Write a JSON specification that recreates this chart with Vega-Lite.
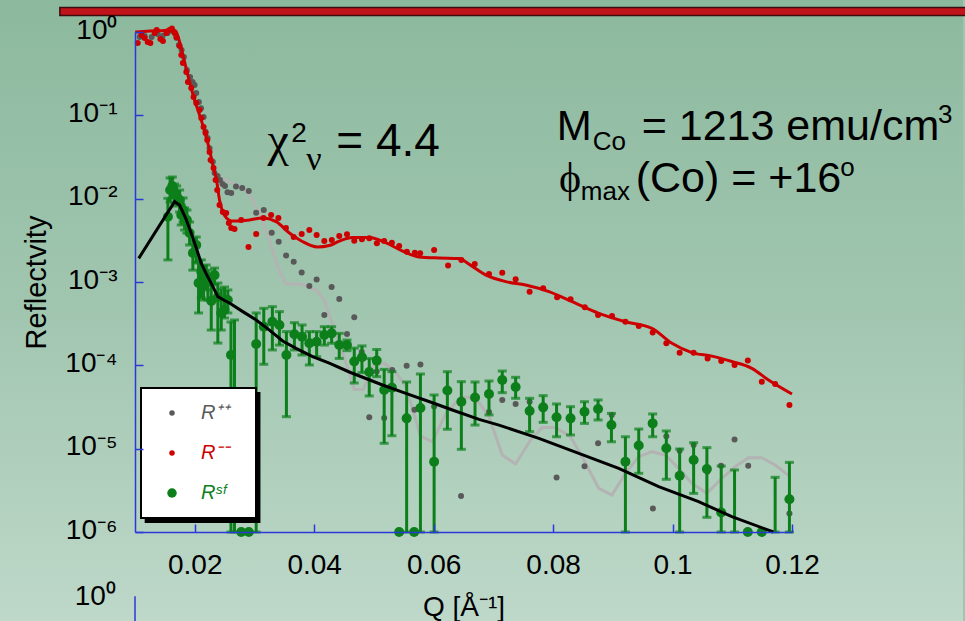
{
  "$schema": "https://vega.github.io/schema/vega-lite/v6.json",
  "width": 657,
  "height": 500,
  "autosize": {"type": "none"},
  "padding": {"left": 135, "top": 32, "right": 173, "bottom": 89},
  "background": "#a1c6b0",
  "config": {"view": {"stroke": null}, "font": "Liberation Sans", "legend": {"strokeWidth": 2}},
  "datasets": {
    "pr": [
      {"s":"R++","q":0.01079,"R":0.871},{"s":"R++","q":0.01162,"R":0.895},{"s":"R++","q":0.01279,"R":0.871},{"s":"R++","q":0.01379,"R":0.946},{"s":"R++","q":0.01463,"R":0.895},{"s":"R++","q":0.01546,"R":0.973},{"s":"R++","q":0.0163,"R":1.028},{"s":"R++","q":0.01697,"R":0.847},
      {"s":"R++","q":0.01735,"R":0.698},{"s":"R++","q":0.0178,"R":0.608},{"s":"R++","q":0.01819,"R":0.501},{"s":"R++","q":0.01869,"R":0.35},{"s":"R++","q":0.01922,"R":0.288},{"s":"R++","q":0.01964,"R":0.251},{"s":"R++","q":0.01998,"R":0.231},{"s":"R++","q":0.02026,"R":0.185},{"s":"R++","q":0.02069,"R":0.145},{"s":"R++","q":0.02106,"R":0.122},{"s":"R++","q":0.02148,"R":0.0955},{"s":"R++","q":0.02181,"R":0.0637},{"s":"R++","q":0.02215,"R":0.0535},{"s":"R++","q":0.02248,"R":0.0402},{"s":"R++","q":0.02303,"R":0.0278},{"s":"R++","q":0.02332,"R":0.0203},{"s":"R++","q":0.02382,"R":0.0187},{"s":"R++","q":0.02424,"R":0.01675},{"s":"R++","q":0.02465,"R":0.015},{"s":"R++","q":0.02507,"R":0.0142},{"s":"R++","q":0.02549,"R":0.0119},{"s":"R++","q":0.02611,"R":0.0117},{"s":"R++","q":0.02691,"R":0.014},{"s":"R++","q":0.02795,"R":0.0134},{"s":"R++","q":0.02905,"R":0.0124},{"s":"R++","q":0.03029,"R":0.00679},{"s":"R++","q":0.03156,"R":0.00731},{"s":"R++","q":0.03289,"R":0.00391},{"s":"R++","q":0.03406,"R":0.00305},{"s":"R++","q":0.0353,"R":0.00208},{"s":"R++","q":0.03657,"R":0.00175},{"s":"R++","q":0.03791,"R":0.0013},{"s":"R++","q":0.03919,"R":0.000895},{"s":"R++","q":0.04041,"R":0.00107},{"s":"R++","q":0.0417,"R":0.000402},{"s":"R++","q":0.04292,"R":0.000871},{"s":"R++","q":0.0442,"R":0.000625},{"s":"R++","q":0.04549,"R":0.000238},{"s":"R++","q":0.04671,"R":0.000377},{"s":"R++","q":0.04796,"R":0.000145},{"s":"R++","q":0.04922,"R":2.38e-5},{"s":"R++","q":0.05047,"R":8.43e-5},{"s":"R++","q":0.05172,"R":2.33e-5},{"s":"R++","q":0.05306,"R":8.79e-5},{"s":"R++","q":0.05548,"R":9.9e-5},{"s":"R++","q":0.05679,"R":2.94e-5},{"s":"R++","q":0.05779,"R":0.000102},{"s":"R++","q":0.06008,"R":3.21e-5},{"s":"R++","q":0.06459,"R":2.7e-6},{"s":"R++","q":0.06927,"R":2.75e-5},{"s":"R++","q":0.07149,"R":3.84e-5},{"s":"R++","q":0.07373,"R":3.44e-5},{"s":"R++","q":0.07607,"R":3.66e-5},{"s":"R++","q":0.08058,"R":4.51e-6},{"s":"R++","q":0.08526,"R":6.14e-6},{"s":"R++","q":0.08753,"R":1.16e-5},{"s":"R++","q":0.08982,"R":2.54e-5},{"s":"R++","q":0.09671,"R":1.91e-6},{"s":"R++","q":0.09896,"R":1.41e-5},{"s":"R++","q":0.10119,"R":9.46e-6},{"s":"R++","q":0.10353,"R":1.11e-5},{"s":"R++","q":0.10582,"R":5.3e-6},{"s":"R++","q":0.10812,"R":6.22e-6},{"s":"R++","q":0.11038,"R":1.29e-5},{"s":"R++","q":0.11267,"R":6.22e-6},{"s":"R++","q":0.11957,"R":1.67e-6},
      {"s":"R--","q":0.01045,"R":0.738},{"s":"R--","q":0.01107,"R":0.92},{"s":"R--","q":0.01162,"R":0.847},{"s":"R--","q":0.01212,"R":0.759},{"s":"R--","q":0.01257,"R":0.738},{"s":"R--","q":0.01329,"R":0.973},{"s":"R--","q":0.01363,"R":1.057},{"s":"R--","q":0.01424,"R":0.824},{"s":"R--","q":0.01468,"R":0.78},{"s":"R--","q":0.01525,"R":0.973},{"s":"R--","q":0.0158,"R":1.057},{"s":"R--","q":0.01618,"R":1.1},{"s":"R--","q":0.01663,"R":0.973},{"s":"R--","q":0.01692,"R":0.871},
      {"s":"R--","q":0.01747,"R":0.679},{"s":"R--","q":0.01775,"R":0.53},{"s":"R--","q":0.01802,"R":0.425},{"s":"R--","q":0.01859,"R":0.331},{"s":"R--","q":0.01886,"R":0.251},{"s":"R--","q":0.01942,"R":0.213},{"s":"R--","q":0.01981,"R":0.166},{"s":"R--","q":0.02026,"R":0.141},{"s":"R--","q":0.02081,"R":0.116},{"s":"R--","q":0.0211,"R":0.0929},{"s":"R--","q":0.02148,"R":0.0724},{"s":"R--","q":0.02181,"R":0.0614},{"s":"R--","q":0.0221,"R":0.0506},{"s":"R--","q":0.02248,"R":0.0363},{"s":"R--","q":0.02265,"R":0.0291},{"s":"R--","q":0.02315,"R":0.0233},{"s":"R--","q":0.02349,"R":0.01675},{"s":"R--","q":0.02377,"R":0.0127},{"s":"R--","q":0.02415,"R":0.00839},{"s":"R--","q":0.0247,"R":0.00692},{"s":"R--","q":0.02527,"R":0.00673},{"s":"R--","q":0.02571,"R":0.0051},{"s":"R--","q":0.02611,"R":0.00445},{"s":"R--","q":0.02666,"R":0.00433},{"s":"R--","q":0.02778,"R":0.00555},{"s":"R--","q":0.029,"R":0.00263},{"s":"R--","q":0.03029,"R":0.00377},{"s":"R--","q":0.03151,"R":0.00586},{"s":"R--","q":0.03279,"R":0.00637},{"s":"R--","q":0.03401,"R":0.00586},{"s":"R--","q":0.03527,"R":0.00445},{"s":"R--","q":0.03657,"R":0.00347},{"s":"R--","q":0.03791,"R":0.00377},{"s":"R--","q":0.03919,"R":0.00421},{"s":"R--","q":0.04041,"R":0.00366},{"s":"R--","q":0.0417,"R":0.0031},{"s":"R--","q":0.04295,"R":0.00319},{"s":"R--","q":0.0442,"R":0.00356},{"s":"R--","q":0.04549,"R":0.00373},{"s":"R--","q":0.04671,"R":0.00313},{"s":"R--","q":0.048,"R":0.00325},{"s":"R--","q":0.04922,"R":0.00334},{"s":"R--","q":0.0505,"R":0.00291},{"s":"R--","q":0.05172,"R":0.0031},{"s":"R--","q":0.05301,"R":0.00296},{"s":"R--","q":0.05423,"R":0.0027},{"s":"R--","q":0.05552,"R":0.00231},{"s":"R--","q":0.05685,"R":0.00225},{"s":"R--","q":0.05774,"R":0.00221},{"s":"R--","q":0.06008,"R":0.00242},{"s":"R--","q":0.06242,"R":0.00158},{"s":"R--","q":0.06464,"R":0.00184},{"s":"R--","q":0.06688,"R":0.00164},{"s":"R--","q":0.06927,"R":0.00125},{"s":"R--","q":0.07149,"R":0.00129},{"s":"R--","q":0.07373,"R":0.00108},{"s":"R--","q":0.07607,"R":0.000766},{"s":"R--","q":0.07834,"R":0.000839},{"s":"R--","q":0.08068,"R":0.000655},{"s":"R--","q":0.08292,"R":0.000619},{"s":"R--","q":0.08531,"R":0.000497},{"s":"R--","q":0.08753,"R":0.000402},{"s":"R--","q":0.08987,"R":0.000391},{"s":"R--","q":0.09211,"R":0.000334},{"s":"R--","q":0.09434,"R":0.000296},{"s":"R--","q":0.09667,"R":0.000247},{"s":"R--","q":0.09896,"R":0.000184},{"s":"R--","q":0.10119,"R":0.000142},{"s":"R--","q":0.10353,"R":0.000142},{"s":"R--","q":0.10587,"R":0.000121},{"s":"R--","q":0.10815,"R":0.000113},{"s":"R--","q":0.11038,"R":0.000101},{"s":"R--","q":0.1126,"R":0.000114},{"s":"R--","q":0.11494,"R":6.37e-5},{"s":"R--","q":0.11718,"R":5.97e-5},{"s":"R--","q":0.11957,"R":3.34e-5}
    ],
    "sf": [
      {"s":"RSF","q":0.01551,"R":0.00608},{"s":"RSF","q":0.01588,"R":0.0127},{"s":"RSF","q":0.01625,"R":0.0142},{"s":"RSF","q":0.01663,"R":0.0117},{"s":"RSF","q":0.01697,"R":0.0108},{"s":"RSF","q":0.01747,"R":0.00964},{"s":"RSF","q":0.01775,"R":0.00637},{"s":"RSF","q":0.01805,"R":0.00731},{"s":"RSF","q":0.0183,"R":0.00586},{"s":"RSF","q":0.01869,"R":0.00555},{"s":"RSF","q":0.01914,"R":0.00387},{"s":"RSF","q":0.01969,"R":0.00223},{"s":"RSF","q":0.02026,"R":0.00278},{"s":"RSF","q":0.02064,"R":0.000972},{"s":"RSF","q":0.0211,"R":0.00132},{"s":"RSF","q":0.02148,"R":0.000972},{"s":"RSF","q":0.02193,"R":0.00118},{"s":"RSF","q":0.0222,"R":0.001},{"s":"RSF","q":0.02277,"R":0.000592},{"s":"RSF","q":0.02332,"R":0.00121},{"s":"RSF","q":0.02387,"R":0.000661},{"s":"RSF","q":0.02444,"R":0.000425},{"s":"RSF","q":0.02499,"R":0.000461},{"s":"RSF","q":0.02554,"R":0.000608},{"s":"RSF","q":0.02607,"R":0.000133},{"s":"RSF","q":0.02778,"R":1e-6},{"s":"RSF","q":0.02905,"R":1e-6},{"s":"RSF","q":0.03029,"R":0.00018},{"s":"RSF","q":0.03156,"R":0.000291},{"s":"RSF","q":0.033,"R":0.000334},{"s":"RSF","q":0.03418,"R":0.000305},{"s":"RSF","q":0.03535,"R":0.000133},{"s":"RSF","q":0.03669,"R":0.000236},{"s":"RSF","q":0.03797,"R":0.000221},{"s":"RSF","q":0.03919,"R":0.000184},{"s":"RSF","q":0.04041,"R":0.000192},{"s":"RSF","q":0.0417,"R":0.000231},{"s":"RSF","q":0.04292,"R":0.000242},{"s":"RSF","q":0.0442,"R":0.000175},{"s":"RSF","q":0.04549,"R":0.000175},{"s":"RSF","q":0.04671,"R":0.000111},{"s":"RSF","q":0.048,"R":0.000125},{"s":"RSF","q":0.04922,"R":8.32e-5},{"s":"RSF","q":0.05047,"R":0.000114},{"s":"RSF","q":0.05172,"R":5.06e-5},{"s":"RSF","q":0.05301,"R":5.4e-5},{"s":"RSF","q":0.05423,"R":1e-6},{"s":"RSF","q":0.05548,"R":2.31e-5},{"s":"RSF","q":0.05674,"R":1e-6},{"s":"RSF","q":0.05779,"R":3.08e-5},{"s":"RSF","q":0.06008,"R":6.98e-6},{"s":"RSF","q":0.0623,"R":4.99e-5},{"s":"RSF","q":0.06464,"R":3.66e-5},{"s":"RSF","q":0.06693,"R":4.11e-5},{"s":"RSF","q":0.06927,"R":4.53e-5},{"s":"RSF","q":0.07149,"R":6.67e-5},{"s":"RSF","q":0.07373,"R":5.5e-5},{"s":"RSF","q":0.07607,"R":2.83e-5},{"s":"RSF","q":0.07834,"R":3.13e-5},{"s":"RSF","q":0.08058,"R":2.38e-5},{"s":"RSF","q":0.08292,"R":2.31e-5},{"s":"RSF","q":0.08526,"R":2.78e-5},{"s":"RSF","q":0.08753,"R":2.99e-5},{"s":"RSF","q":0.08977,"R":1.92e-5},{"s":"RSF","q":0.09211,"R":6.98e-6},{"s":"RSF","q":0.09434,"R":1.09e-5},{"s":"RSF","q":0.09667,"R":2.01e-5},{"s":"RSF","q":0.09896,"R":1.01e-5},{"s":"RSF","q":0.10119,"R":4.74e-6},{"s":"RSF","q":0.10353,"R":7.31e-6},{"s":"RSF","q":0.10575,"R":5.7e-6},{"s":"RSF","q":0.10815,"R":1.71e-6},{"s":"RSF","q":0.1126,"R":1e-6},{"s":"RSF","q":0.11494,"R":1e-6},{"s":"RSF","q":0.11957,"R":2.47e-6}
    ],
    "sfbars": [
      {"q":0.01551,"lo":0.00184,"hi":0.0101},{"q":0.01588,"lo":0.00912,"hi":0.0177},{"q":0.01625,"lo":0.0102,"hi":0.0182},{"q":0.01663,"lo":0.00887,"hi":0.015},{"q":0.01697,"lo":0.00817,"hi":0.0142},{"q":0.01747,"lo":0.00692,"hi":0.0127},{"q":0.01775,"lo":0.00483,"hi":0.00839},{"q":0.01805,"lo":0.00525,"hi":0.0102},{"q":0.0183,"lo":0.00421,"hi":0.00773},{"q":0.01869,"lo":0.00387,"hi":0.00731},{"q":0.01914,"lo":0.00278,"hi":0.00525},{"q":0.01969,"lo":0.00139,"hi":0.00319},{"q":0.02026,"lo":0.00169,"hi":0.00347},{"q":0.02064,"lo":0.000425,"hi":0.00174},{"q":0.0211,"lo":0.000643,"hi":0.00184},{"q":0.02148,"lo":0.000608,"hi":0.00156},{"q":0.02193,"lo":0.000802,"hi":0.0016},{"q":0.0222,"lo":0.000608,"hi":0.00139},{"q":0.02277,"lo":0.000265,"hi":0.00112},{"q":0.02332,"lo":0.00092,"hi":0.00147},{"q":0.02387,"lo":0.000185,"hi":0.000972},{"q":0.02444,"lo":0.000265,"hi":0.000824},{"q":0.02499,"lo":0.00037,"hi":0.000871},{"q":0.02554,"lo":0.000425,"hi":0.000802},{"q":0.02607,"lo":1e-6,"hi":0.000331},{"q":0.02666,"lo":1e-6,"hi":0.00035},{"q":0.03029,"lo":1e-6,"hi":0.000425},{"q":0.03156,"lo":0.000103,"hi":0.000483},{"q":0.033,"lo":0.000153,"hi":0.000506},{"q":0.03418,"lo":0.000175,"hi":0.000441},{"q":0.03535,"lo":2.42e-5,"hi":0.000254},{"q":0.03669,"lo":0.000153,"hi":0.000325},{"q":0.03797,"lo":0.000133,"hi":0.000305},{"q":0.03919,"lo":0.000101,"hi":0.000254},{"q":0.04041,"lo":0.000127,"hi":0.000254},{"q":0.0417,"lo":0.000175,"hi":0.000291},{"q":0.04292,"lo":0.000184,"hi":0.000291},{"q":0.0442,"lo":0.000121,"hi":0.000242},{"q":0.04549,"lo":0.00015,"hi":0.000201},{"q":0.04671,"lo":6.14e-5,"hi":0.000161},{"q":0.048,"lo":8.17e-5,"hi":0.000171},{"q":0.04922,"lo":4.29e-5,"hi":0.000121},{"q":0.05047,"lo":7.31e-5,"hi":0.000155},{"q":0.05172,"lo":1.16e-5,"hi":8.95e-5},{"q":0.05301,"lo":1.43e-5,"hi":8.39e-5},{"q":0.05548,"lo":1e-6,"hi":6.31e-5},{"q":0.05779,"lo":1e-6,"hi":7.87e-5},{"q":0.06008,"lo":1e-6,"hi":4.41e-5},{"q":0.0623,"lo":1.71e-5,"hi":8.39e-5},{"q":0.06464,"lo":9.82e-6,"hi":6.37e-5},{"q":0.06693,"lo":1.92e-5,"hi":6.31e-5},{"q":0.06927,"lo":2.54e-5,"hi":6.49e-5},{"q":0.07149,"lo":4.7e-5,"hi":8.55e-5},{"q":0.07373,"lo":4.02e-5,"hi":7.18e-5},{"q":0.07607,"lo":1.6e-5,"hi":4.02e-5},{"q":0.07834,"lo":2.07e-5,"hi":4.33e-5},{"q":0.08058,"lo":1.39e-5,"hi":3.44e-5},{"q":0.08292,"lo":1.46e-5,"hi":3.19e-5},{"q":0.08526,"lo":2.01e-5,"hi":3.66e-5},{"q":0.08753,"lo":2.21e-5,"hi":3.84e-5},{"q":0.08977,"lo":1.21e-5,"hi":2.65e-5},{"q":0.09211,"lo":1e-6,"hi":1.39e-5},{"q":0.09434,"lo":5.06e-6,"hi":1.72e-5},{"q":0.09667,"lo":1.39e-5,"hi":2.61e-5},{"q":0.09896,"lo":4.29e-6,"hi":1.63e-5},{"q":0.10119,"lo":1e-6,"hi":9.91e-6},{"q":0.10353,"lo":2.91e-6,"hi":1.18e-5},{"q":0.10575,"lo":1.5e-6,"hi":1.03e-5},{"q":0.10815,"lo":1e-6,"hi":6.19e-6},{"q":0.11038,"lo":1e-6,"hi":5.55e-6},{"q":0.11718,"lo":1e-6,"hi":4.53e-6},{"q":0.11957,"lo":1e-6,"hi":6.85e-6}
    ],
    "fitm": [
      {"q":0.01003,"R":1.0},{"q":0.01246,"R":1.028},{"q":0.01496,"R":1.042},{"q":0.01613,"R":1.071},{"q":0.0168,"R":1.028},{"q":0.01747,"R":0.759},{"q":0.0183,"R":0.437},{"q":0.01914,"R":0.251},{"q":0.01997,"R":0.153},{"q":0.02081,"R":0.101},{"q":0.02165,"R":0.0649},{"q":0.02248,"R":0.0384},{"q":0.02315,"R":0.0233},{"q":0.02365,"R":0.01675},{"q":0.02415,"R":0.00964},{"q":0.0247,"R":0.00692},{"q":0.02532,"R":0.00586},{"q":0.02616,"R":0.0054},{"q":0.02749,"R":0.0054},{"q":0.02917,"R":0.00555},{"q":0.03134,"R":0.00586},{"q":0.03363,"R":0.0053},{"q":0.03585,"R":0.00387},{"q":0.03802,"R":0.00306},{"q":0.04053,"R":0.00263},{"q":0.04253,"R":0.00274},{"q":0.0442,"R":0.0031},{"q":0.04638,"R":0.00342},{"q":0.04922,"R":0.00342},{"q":0.05206,"R":0.00294},{"q":0.05473,"R":0.00236},{"q":0.05757,"R":0.002},{"q":0.06091,"R":0.00194},{"q":0.06425,"R":0.00191},{"q":0.06592,"R":0.00164},{"q":0.06877,"R":0.00121},{"q":0.07211,"R":0.00101},{"q":0.0754,"R":0.00092},{"q":0.0793,"R":0.000766},{"q":0.08319,"R":0.000581},{"q":0.08765,"R":0.000421},{"q":0.09211,"R":0.000334},{"q":0.09656,"R":0.000278},{"q":0.0999,"R":0.000184},{"q":0.10324,"R":0.000142},{"q":0.10658,"R":0.000129},{"q":0.10993,"R":0.000111},{"q":0.11327,"R":9.2e-5},{"q":0.11606,"R":6.67e-5},{"q":0.12,"R":4.53e-5}
    ],
    "fitp": [
      {"q":0.0236,"R":0.01837},{"q":0.02415,"R":0.0177},{"q":0.02527,"R":0.01675},{"q":0.02633,"R":0.0154},{"q":0.0275,"R":0.0142},{"q":0.02917,"R":0.01138},{"q":0.03084,"R":0.00655},{"q":0.03251,"R":0.00319},{"q":0.03363,"R":0.00174},{"q":0.03435,"R":0.00128},{"q":0.0353,"R":0.000946},{"q":0.03781,"R":0.000946},{"q":0.04031,"R":0.000802},{"q":0.0417,"R":0.000608},{"q":0.04253,"R":0.000402},{"q":0.0442,"R":0.000185},{"q":0.04588,"R":8.09e-5},{"q":0.04671,"R":5.13e-5},{"q":0.04822,"R":5.13e-5},{"q":0.04977,"R":9.64e-5},{"q":0.05172,"R":0.000106},{"q":0.05339,"R":8.79e-5},{"q":0.05535,"R":5.55e-5},{"q":0.05702,"R":2.21e-5},{"q":0.05774,"R":1.42e-5},{"q":0.0598,"R":1.21e-5},{"q":0.06203,"R":2.61e-5},{"q":0.06454,"R":4.17e-5},{"q":0.06705,"R":4.06e-5},{"q":0.06927,"R":2.42e-5},{"q":0.07149,"R":8.39e-6},{"q":0.07373,"R":6.55e-6},{"q":0.07624,"R":1.27e-5},{"q":0.07818,"R":1.8e-5},{"q":0.08042,"R":1.8e-5},{"q":0.08292,"R":1.39e-5},{"q":0.08515,"R":7.31e-6},{"q":0.08765,"R":3.34e-6},{"q":0.08987,"R":2.78e-6},{"q":0.09211,"R":5.06e-6},{"q":0.09434,"R":8.02e-6},{"q":0.09656,"R":9.2e-6},{"q":0.0988,"R":8.39e-6},{"q":0.10102,"R":5.81e-6},{"q":0.10324,"R":3.84e-6},{"q":0.10575,"R":2.91e-6},{"q":0.10798,"R":4.21e-6},{"q":0.11049,"R":6.08e-6},{"q":0.11271,"R":7.8e-6},{"q":0.11494,"R":7.8e-6},{"q":0.11718,"R":6.37e-6},{"q":0.11969,"R":4.61e-6}
    ],
    "fitsf": [
      {"q":0.01062,"R":0.00192},{"q":0.01663,"R":0.0092},{"q":0.01747,"R":0.00839},{"q":0.01847,"R":0.00586},{"q":0.01942,"R":0.00384},{"q":0.02026,"R":0.00256},{"q":0.0211,"R":0.00167},{"q":0.02193,"R":0.00125},{"q":0.02277,"R":0.000964},{"q":0.02387,"R":0.000667},{"q":0.02499,"R":0.0006},{"q":0.02582,"R":0.00056},{"q":0.02805,"R":0.000441},{"q":0.03029,"R":0.00035},{"q":0.03251,"R":0.000265},{"q":0.03473,"R":0.000196},{"q":0.03697,"R":0.00016},{"q":0.03974,"R":0.000127},{"q":0.04253,"R":0.000106},{"q":0.04588,"R":8.32e-5},{"q":0.05144,"R":5.81e-5},{"q":0.05535,"R":4.61e-5},{"q":0.0598,"R":3.56e-5},{"q":0.06314,"R":2.91e-5},{"q":0.0676,"R":2.25e-5},{"q":0.07094,"R":1.92e-5},{"q":0.07762,"R":1.33e-5},{"q":0.08431,"R":8.79e-6},{"q":0.09099,"R":5.81e-6},{"q":0.09768,"R":3.5e-6},{"q":0.10436,"R":2.31e-6},{"q":0.10993,"R":1.53e-6},{"q":0.11689,"R":1e-6}
    ]
  },
  "layer": [
    {
      "data": {"values": [{}]},
      "mark": {"type": "rect", "fill": {"gradient": "linear", "x1": 0, "y1": 0, "x2": 0, "y2": 1, "stops": [{"offset": 0, "color": "#8cb99e"}, {"offset": 0.5, "color": "#a1c6b0"}, {"offset": 1, "color": "#bed8c9"}]}},
      "encoding": {
        "x": {"datum": -0.012607, "type": "quantitative"}, "x2": {"datum": 0.148629},
        "y": {"datum": 2.421, "type": "quantitative"}, "y2": {"datum": 8.546e-8}
      }
    },
    {
      "data": {"values": [{}]},
      "mark": {"type": "rect", "fill": "#c0141a", "stroke": "#3b0d0d", "strokeWidth": 1.5},
      "encoding": {
        "x": {"datum": -0.00258, "type": "quantitative"}, "x2": {"datum": 0.14947},
        "y": {"datum": 1.968, "type": "quantitative"}, "y2": {"datum": 1.578}
      }
    },
    {
      "data": {"values": [{}]},
      "mark": {"type": "rule", "color": "#2a38d8", "strokeWidth": 1.5},
      "encoding": {
        "x": {"datum": 0.01, "type": "quantitative"},
        "y": {"datum": 1.7e-7, "type": "quantitative"}, "y2": {"datum": 8.0e-8}
      }
    },
    {
      "data": {"values": [{}]},
      "mark": {"type": "text", "text": "10⁰", "align": "left", "baseline": "alphabetic", "font": "Liberation Sans", "fontSize": 28, "fill": "#000000"},
      "encoding": {"x": {"datum": -0.0001, "type": "quantitative"}, "y": {"datum": 1.33e-7, "type": "quantitative"}}
    },
    {
      "data": {"name": "fitp"},
      "mark": {"type": "line", "color": "#b3b3b3", "strokeWidth": 3},
      "encoding": {
        "x": {
          "field": "q", "type": "quantitative", "title": "Q [Å⁻¹]",
          "scale": {"domain": [0.01, 0.12], "nice": false, "zero": false},
          "axis": {
            "zindex": 1,
            "values": [0.02, 0.04, 0.06, 0.08, 0.1, 0.12], "format": ".2~g", "grid": false,
            "domainColor": "#2a38d8", "domainWidth": 1.5, "tickColor": "#2a38d8", "tickWidth": 1.5, "tickSize": -8,
            "labelPadding": 27, "labelFontSize": 28, "labelFont": "Liberation Sans", "labelColor": "#000000",
            "labelFlush": false, "labelOverlap": false,
            "titleFont": "Liberation Sans", "titleFontSize": 28, "titleFontWeight": "normal", "titleColor": "#000000",
            "titleY": 83, "titleBaseline": "alphabetic"
          }
        },
        "y": {
          "field": "R", "type": "quantitative", "title": "Reflectvity",
          "scale": {"type": "log", "domain": [0.000001, 1], "nice": false},
          "axis": {
            "zindex": 1,
            "values": [1, 0.1, 0.01, 0.001, 0.0001, 0.00001, 0.000001],
            "labelExpr": "'10' + ['⁰','⁻¹','⁻²','⁻³','⁻⁴','⁻⁵','⁻⁶'][-round(log(datum.value)/LN10)]",
            "grid": false,
            "domainColor": "#2a38d8", "domainWidth": 1.5, "tickColor": "#2a38d8", "tickWidth": 1.5, "tickSize": -8,
            "labelPadding": 26, "labelOffset": -2, "labelFontSize": 28, "labelFont": "Liberation Sans", "labelColor": "#000000",
            "labelFlush": false, "labelOverlap": false,
            "titleFont": "Liberation Sans", "titleFontSize": 29, "titleFontWeight": "normal", "titleColor": "#000000",
            "titleX": -99, "titleY": 250, "titleAngle": 270, "titleBaseline": "middle", "titleAlign": "center"
          }
        }
      }
    },
    {
      "data": {"name": "pr"},
      "mark": {"type": "circle", "opacity": 1, "size": 36},
      "encoding": {
        "x": {"field": "q", "type": "quantitative", "title": "Q [Å⁻¹]"},
        "y": {"field": "R", "type": "quantitative", "title": "Reflectvity"},
        "color": {
          "field": "s", "type": "nominal",
          "scale": {"domain": ["R++", "R--", "RSF"], "range": ["#595959", "#cc0000", "#0c7f1b"]},
          "legend": {
            "title": ".", "titleOrient": "right", "titleColor": "#ffffff", "titleFontSize": 10, "titlePadding": 9,
            "orient": "none", "legendX": 6, "legendY": 356,
            "fillColor": "#ffffff", "strokeColor": "#000000", "padding": 15,
            "rowPadding": 20, "symbolOffset": 6, "labelOffset": 19, "symbolType": "circle",
            "symbolSize": {"expr": "datum.value === 'RSF' ? 90 : 30"},
            "labelFont": "Liberation Sans", "labelFontSize": 20, "labelFontStyle": "italic",
            "labelColor": {"expr": "datum.value === 'R++' ? '#595959' : datum.value === 'R--' ? '#cc0000' : '#0c7f1b'"},
            "labelExpr": "datum.value === 'R++' ? 'R⁺⁺' : datum.value === 'R--' ? 'R⁻⁻' : 'Rˢᶠ'"
          }
        }
      }
    },
    {
      "data": {"name": "fitm"},
      "mark": {"type": "line", "color": "#cc0000", "strokeWidth": 3, "interpolate": "monotone"},
      "encoding": {
        "x": {"field": "q", "type": "quantitative", "title": "Q [Å⁻¹]"},
        "y": {"field": "R", "type": "quantitative", "title": "Reflectvity"}
      }
    },
    {
      "data": {"name": "sfbars"},
      "mark": {"type": "errorbar", "ticks": true, "size": 9, "thickness": 3, "color": "#0c7f1b"},
      "encoding": {
        "x": {"field": "q", "type": "quantitative", "title": "Q [Å⁻¹]"},
        "y": {"field": "lo", "type": "quantitative", "title": "Reflectvity"},
        "y2": {"field": "hi"}
      }
    },
    {
      "data": {"name": "sf"},
      "mark": {"type": "circle", "opacity": 1, "size": 100},
      "encoding": {
        "x": {"field": "q", "type": "quantitative", "title": "Q [Å⁻¹]"},
        "y": {"field": "R", "type": "quantitative", "title": "Reflectvity"},
        "color": {
          "field": "s", "type": "nominal",
          "scale": {"domain": ["R++", "R--", "RSF"], "range": ["#595959", "#cc0000", "#0c7f1b"]},
          "legend": {
            "title": ".", "titleOrient": "right", "titleColor": "#ffffff", "titleFontSize": 10, "titlePadding": 9,
            "orient": "none", "legendX": 6, "legendY": 356,
            "fillColor": "#ffffff", "strokeColor": "#000000", "padding": 15,
            "rowPadding": 20, "symbolOffset": 6, "labelOffset": 19, "symbolType": "circle",
            "symbolSize": {"expr": "datum.value === 'RSF' ? 90 : 30"},
            "labelFont": "Liberation Sans", "labelFontSize": 20, "labelFontStyle": "italic",
            "labelColor": {"expr": "datum.value === 'R++' ? '#595959' : datum.value === 'R--' ? '#cc0000' : '#0c7f1b'"},
            "labelExpr": "datum.value === 'R++' ? 'R⁺⁺' : datum.value === 'R--' ? 'R⁻⁻' : 'Rˢᶠ'"
          }
        }
      }
    },
    {
      "data": {"name": "fitsf"},
      "mark": {"type": "line", "color": "#000000", "strokeWidth": 3},
      "encoding": {
        "x": {"field": "q", "type": "quantitative", "title": "Q [Å⁻¹]"},
        "y": {"field": "R", "type": "quantitative", "title": "Reflectvity"}
      }
    },
    {
      "data": {"values": [{}]},
      "mark": {"type": "rect", "fill": "#000000"},
      "encoding": {
        "x": {"datum": 0.011621, "type": "quantitative"}, "x2": {"datum": 0.031003},
        "y": {"datum": 4.784e-5, "type": "quantitative"}, "y2": {"datum": 1.282e-6}
      }
    },
    {
      "data": {"values": [{}]},
      "mark": {"type": "text", "text": "χ", "align": "left", "baseline": "alphabetic", "font": "Liberation Serif", "fontSize": 48, "fill": "#000000"},
      "encoding": {"x": {"datum": 0.03217, "type": "quantitative"}, "y": {"datum": 0.0325, "type": "quantitative"}}
    },
    {
      "data": {"values": [{}]},
      "mark": {"type": "text", "text": "2", "align": "left", "baseline": "alphabetic", "font": "Liberation Sans", "fontSize": 28, "fill": "#000000"},
      "encoding": {"x": {"datum": 0.03618, "type": "quantitative"}, "y": {"datum": 0.0479, "type": "quantitative"}}
    },
    {
      "data": {"values": [{}]},
      "mark": {"type": "text", "text": "ν", "align": "left", "baseline": "alphabetic", "font": "Liberation Serif", "fontSize": 34, "fill": "#000000"},
      "encoding": {"x": {"datum": 0.03869, "type": "quantitative"}, "y": {"datum": 0.0221, "type": "quantitative"}}
    },
    {
      "data": {"values": [{}]},
      "mark": {"type": "text", "text": "= 4.4", "align": "left", "baseline": "alphabetic", "font": "Liberation Sans", "fontSize": 46, "fill": "#000000"},
      "encoding": {"x": {"datum": 0.0437, "type": "quantitative"}, "y": {"datum": 0.0325, "type": "quantitative"}}
    },
    {
      "data": {"values": [{}]},
      "mark": {"type": "text", "text": "M", "align": "left", "baseline": "alphabetic", "font": "Liberation Sans", "fontSize": 42, "fill": "#000000"},
      "encoding": {"x": {"datum": 0.08063, "type": "quantitative"}, "y": {"datum": 0.0506, "type": "quantitative"}}
    },
    {
      "data": {"values": [{}]},
      "mark": {"type": "text", "text": "Co", "align": "left", "baseline": "alphabetic", "font": "Liberation Sans", "fontSize": 26, "fill": "#000000"},
      "encoding": {"x": {"datum": 0.08665, "type": "quantitative"}, "y": {"datum": 0.0384, "type": "quantitative"}}
    },
    {
      "data": {"values": [{}]},
      "mark": {"type": "text", "text": "= 1213 emu/cm", "align": "left", "baseline": "alphabetic", "font": "Liberation Sans", "fontSize": 43, "fill": "#000000"},
      "encoding": {"x": {"datum": 0.09483, "type": "quantitative"}, "y": {"datum": 0.0506, "type": "quantitative"}}
    },
    {
      "data": {"values": [{}]},
      "mark": {"type": "text", "text": "3", "align": "left", "baseline": "alphabetic", "font": "Liberation Sans", "fontSize": 26, "fill": "#000000"},
      "encoding": {"x": {"datum": 0.14446, "type": "quantitative"}, "y": {"datum": 0.0809, "type": "quantitative"}}
    },
    {
      "data": {"values": [{}]},
      "mark": {"type": "text", "text": "ϕ", "align": "left", "baseline": "alphabetic", "font": "Liberation Serif", "fontSize": 42, "fill": "#000000"},
      "encoding": {"x": {"datum": 0.08097, "type": "quantitative"}, "y": {"datum": 0.012, "type": "quantitative"}}
    },
    {
      "data": {"values": [{}]},
      "mark": {"type": "text", "text": "max", "align": "left", "baseline": "alphabetic", "font": "Liberation Sans", "fontSize": 26, "fill": "#000000"},
      "encoding": {"x": {"datum": 0.08464, "type": "quantitative"}, "y": {"datum": 0.00964, "type": "quantitative"}}
    },
    {
      "data": {"values": [{}]},
      "mark": {"type": "text", "text": "(Co) = +16", "align": "left", "baseline": "alphabetic", "font": "Liberation Sans", "fontSize": 43, "fill": "#000000"},
      "encoding": {"x": {"datum": 0.09383, "type": "quantitative"}, "y": {"datum": 0.012, "type": "quantitative"}}
    },
    {
      "data": {"values": [{}]},
      "mark": {"type": "text", "text": "o", "align": "left", "baseline": "alphabetic", "font": "Liberation Sans", "fontSize": 26, "fill": "#000000"},
      "encoding": {"x": {"datum": 0.12809, "type": "quantitative"}, "y": {"datum": 0.0187, "type": "quantitative"}}
    }
  ]
}
